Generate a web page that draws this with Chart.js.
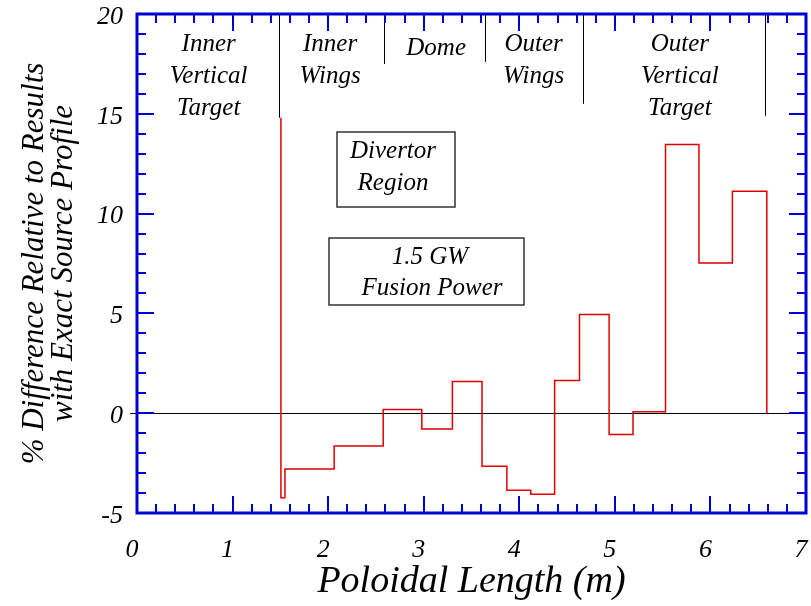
<!DOCTYPE html>
<html>
<head>
<meta charset="utf-8">
<script src="https://cdn.jsdelivr.net/npm/chart.js@4.4.1/dist/chart.umd.min.js"></script>
<style>
  html, body { margin: 0; padding: 0; background: #fff; }
  #wrap { width: 811px; height: 606px; }
</style>
</head>
<body>
<div id="wrap"><canvas id="grafico" width="811" height="606"></canvas></div>
<script>
// ========== DATOS ==========
// borde izquierdo de cada escalon (m) y su valor (%)
const bordes  = [1.506, 1.506, 1.548, 2.063, 2.576, 2.98, 3.30, 3.61, 3.87, 4.12, 4.37, 4.63, 4.94, 5.19, 5.53, 5.88, 6.23, 6.59];
const valores = [14.8, -4.24, -2.79, -1.64, 0.18, -0.79, 1.59, -2.66, -3.86, -4.06, 1.64, 4.94, -1.07, 0.07, 13.46, 7.52, 11.12, 0];

// regiones del divertor
const regiones = [['Inner', 'Vertical', 'Target'], ['Inner', 'Wings'], ['Dome'], ['Outer', 'Wings'], ['Outer', 'Vertical', 'Target']];
const centrosRegion = [0.75, 2.02, 3.13, 4.15, 5.68];
const separadores = [1.5, 2.59, 3.65, 4.68, 6.58];
const finSeparador = [14.8, 17.5, 17.6, 15.5, 14.9];

const cajas = [['Divertor', 'Region'], ['1.5 GW', 'Fusion Power']];

const tituloX = 'Poloidal Length (m)';
const tituloY = ['% Difference Relative to Results', 'with Exact Source Profile'];

const FUENTE = '"Liberation Serif", "Times New Roman", serif';
const AZUL = '#0000d0';

// ========== PLUGIN: marco, ticks, regiones ==========
const marcoPlugin = {
  id: 'marco',
  beforeDatasetsDraw(chart) {
    const { ctx, chartArea: a, scales: { x, y } } = chart;
    ctx.save();
    // linea del cero
    ctx.strokeStyle = '#000';
    ctx.lineWidth = 1;
    ctx.beginPath();
    ctx.moveTo(a.left - 7, Math.round(y.getPixelForValue(0)) + 0.5);
    ctx.lineTo(a.right, Math.round(y.getPixelForValue(0)) + 0.5);
    ctx.stroke();
    // separadores de regiones
    separadores.forEach((s, i) => {
      const px = Math.round(x.getPixelForValue(s)) - 0.5;
      ctx.beginPath();
      ctx.moveTo(px, a.top);
      ctx.lineTo(px, y.getPixelForValue(finSeparador[i]));
      ctx.stroke();
    });
    // textos de regiones
    ctx.fillStyle = '#000';
    ctx.font = 'italic 25px ' + FUENTE;
    ctx.textAlign = 'center';
    ctx.textBaseline = 'middle';
    regiones.forEach((r, i) => {
      const cx = x.getPixelForValue(centrosRegion[i]);
      const y0 = r.length === 1 ? 48 : 44;
      r.forEach((linea, j) => ctx.fillText(linea, cx, y0 + j * 32));
    });
    // cajas de texto
    ctx.strokeStyle = '#333';
    ctx.lineWidth = 1.5;
    ctx.strokeRect(337, 132, 118, 75);
    ctx.fillText(cajas[0][0], 393, 151);
    ctx.fillText(cajas[0][1], 393, 183);
    ctx.strokeRect(329, 238, 195, 67);
    ctx.fillText(cajas[1][0], 430, 257);
    ctx.fillText(cajas[1][1], 432, 288);
    ctx.restore();
  },
  afterDatasetsDraw(chart) {
    const { ctx, chartArea: a, scales: { x, y } } = chart;
    ctx.save();
    ctx.strokeStyle = AZUL;
    ctx.lineWidth = 2;
    // ticks x (menores cada 0.2, mayores cada 1)
    for (let i = 0; i <= 35; i++) {
      const px = Math.round(x.getPixelForValue(i * 0.2));
      const largo = i % 5 === 0 ? 17 : 9;
      ctx.beginPath();
      ctx.moveTo(px, a.bottom); ctx.lineTo(px, a.bottom - largo);
      ctx.moveTo(px, a.top); ctx.lineTo(px, a.top + largo);
      ctx.stroke();
    }
    // ticks y (menores cada 1, mayores cada 5)
    for (let v = -5; v <= 20; v++) {
      const py = Math.round(y.getPixelForValue(v));
      const largo = v % 5 === 0 ? 17 : 9;
      ctx.beginPath();
      ctx.moveTo(a.left, py); ctx.lineTo(a.left + largo, py);
      ctx.moveTo(a.right, py); ctx.lineTo(a.right - largo, py);
      ctx.stroke();
    }
    // marco
    ctx.lineWidth = 3;
    ctx.strokeRect(a.left, a.top, a.right - a.left, a.bottom - a.top);
    ctx.restore();
  }
};

// ========== GRAFICO ==========
const puntos = bordes.map((b, i) => ({ x: b, y: valores[i] }));

new Chart(document.getElementById('grafico'), {
  type: 'line',
  data: {
    datasets: [{
      data: puntos,
      stepped: true,
      borderColor: '#e00000',
      borderWidth: 1.5,
      pointRadius: 0,
      fill: false
    }]
  },
  options: {
    responsive: false,
    animation: false,
    devicePixelRatio: 1,
    layout: { padding: { top: 14, right: 5, left: 0, bottom: 0 } },
    plugins: { legend: { display: false }, tooltip: { enabled: false } },
    scales: {
      x: {
        type: 'linear',
        min: 0, max: 7,
        grid: { display: false, drawTicks: false },
        border: { display: false },
        ticks: {
          stepSize: 1,
          padding: 22,
          labelOffset: -5,
          color: '#000',
          font: { family: FUENTE, style: 'italic', size: 26 }
        },
        title: {
          display: true,
          text: tituloX,
          color: '#000',
          padding: { top: 0, bottom: 1 },
          font: { family: FUENTE, style: 'italic', size: 38 }
        },
        afterFit(scale) {
          scale.height = 606 - 513;
          scale.paddingLeft = 0;
          scale.paddingRight = 0;
        }
      },
      y: {
        type: 'linear',
        min: -5, max: 20,
        grid: { display: false, drawTicks: false },
        border: { display: false },
        ticks: {
          stepSize: 5,
          padding: 14,
          labelOffset: 3,
          color: '#000',
          font: { family: FUENTE, style: 'italic', size: 26 }
        },
        title: {
          display: true,
          text: tituloY,
          color: '#000',
          padding: { top: 20, bottom: 0 },
          font: { family: FUENTE, style: 'italic', size: 31, lineHeight: 0.95 }
        },
        afterFit(scale) {
          scale.width = 137;
          scale.paddingTop = 0;
          scale.paddingBottom = 0;
        }
      }
    }
  },
  plugins: [marcoPlugin]
});
</script>
</body>
</html>
